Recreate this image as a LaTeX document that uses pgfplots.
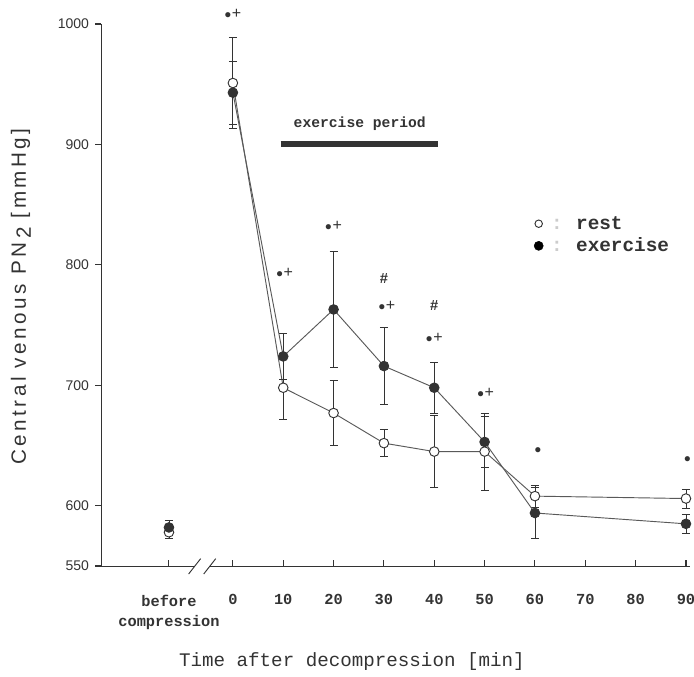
\documentclass[border=0pt]{standalone}
\usepackage{fontspec}
\setmainfont{Liberation Serif}
\setsansfont{Liberation Sans}
\setmonofont{Liberation Mono}
\usepackage{pgfplots}
\pgfplotsset{compat=1.18}
\usetikzlibrary{calc}

\definecolor{ink}{gray}{0.2}
% significance markers: bullet and plus
\newcommand{\sigm}{{\fontsize{10}{10}\selectfont$\bullet$}\kern0.5pt{\fontsize{12}{12}\selectfont\sffamily +}}
\newcommand{\sigd}{{\fontsize{10}{10}\selectfont$\bullet$}}
\newcommand{\sigh}{{\fontsize{11}{11}\selectfont\sffamily\bfseries\#}}

\begin{document}
\begin{tikzpicture}
\begin{axis}[
  scale only axis, width=441.75pt, height=406.5pt,
  xmin=-26.2, xmax=90.8, ymin=550, ymax=1000,
  axis x line*=bottom, axis y line*=left,
  axis line style={-, ink, line width=0.7pt},
  major tick length=0pt,
  xtick={-12.7,0,10,20,30,40,50,60,70,80,90},
  xticklabels={before\\compression,0,10,20,30,40,50,60,70,80,90},
  x tick label style={font=\fontsize{11.5}{15}\selectfont\ttfamily\bfseries, align=center, text=ink, yshift=-18pt},
  ytick={550,600,700,800,900,1000},
  yticklabels={550,600,700,800,900,1000},
  y tick label style={font=\fontsize{10.5}{12}\selectfont\sffamily, text=ink, xshift=-5.5pt},
  xlabel={Time after decompression [min]},
  xlabel style={font=\fontsize{14.4}{16}\selectfont\ttfamily, text=ink, at={(axis description cs:0.426,-0.177)}, anchor=center},
  ylabel={Central venous PN\,\raisebox{-0.45ex}{2} [mmHg]},
  ylabel style={font=\fontsize{15.5}{17}\selectfont\sffamily\addfontfeature{LetterSpace=17}, text=ink, at={(axis description cs:-0.136,0.497)}, anchor=center},
  clip=false,
  legend style={at={(axis cs:59,845)}, anchor=north west, draw=none, fill=none,
    font=\fontsize{14.5}{15}\selectfont\ttfamily\bfseries, text=ink, row sep=1pt},
  legend cell align=left,
  ebar/.style={
    error bars/y dir=both, error bars/y explicit,
    error bars/error bar style={ink, line width=0.6pt},
    error bars/error mark options={rotate=90, ink, mark size=3pt, line width=0.6pt}},
]
% rest
\addplot[forget plot, black!65, line width=0.7pt, mark=*, mark size=3.6pt,
  mark options={fill=white, draw=ink, line width=0.7pt}, ebar] coordinates {
  (0,951) +- (0,38)
  (10,698) +- (0,26)
  (20,677) +- (0,27)
  (30,652) +- (0,11)
  (40,645) +- (0,30)
  (50,645) +- (0,32)
  (60,608) +- (0,9)
  (90,606) +- (0,8)
};
% exercise
\addplot[forget plot, black!65, line width=0.7pt, mark=*, mark size=3.6pt,
  mark options={fill=ink, draw=ink, line width=0.7pt}, ebar] coordinates {
  (0,943) +- (0,26)
  (10,724) +- (0,19)
  (20,763) +- (0,48)
  (30,716) +- (0,32)
  (40,698) +- (0,21)
  (50,653) +- (0,21)
  (60,594) +- (0,21)
  (90,585) +- (0,8)
};
% before compression
\addplot[forget plot, only marks, mark=*, mark size=3.6pt,
  mark options={fill=white, draw=ink, line width=0.7pt}, ebar] coordinates {(-12.7,578) +- (0,5)};
\addplot[forget plot, only marks, mark=*, mark size=3.6pt,
  mark options={fill=ink, draw=ink, line width=0.7pt}, ebar] coordinates {(-12.7,582) +- (0,6)};

\addlegendimage{only marks, mark=*, mark size=2.8pt, mark options={fill=white, draw=ink, line width=0.7pt}}
\addlegendentry{\hspace{4pt}{\color{black!20}:}\hspace{10pt}rest}
\addlegendimage{only marks, mark=*, mark size=3.4pt, mark options={fill=black, draw=black}}
\addlegendentry{\hspace{4pt}{\color{black!20}:}\hspace{10pt}exercise}

% tick lines: x ticks point up into the plot, y ticks point out to the left
\draw[ink, line width=0.8pt]
  (axis cs:-12.7,550) -- (axis cs:-12.7,555)
  (axis cs:0,550) -- (axis cs:0,555)
  (axis cs:10,550) -- (axis cs:10,555)
  (axis cs:20,550) -- (axis cs:20,555)
  (axis cs:30,550) -- (axis cs:30,555)
  (axis cs:40,550) -- (axis cs:40,555)
  (axis cs:50,550) -- (axis cs:50,555)
  (axis cs:60,550) -- (axis cs:60,555)
  (axis cs:70,550) -- (axis cs:70,555)
  (axis cs:80,550) -- (axis cs:80,555)
  (axis cs:90,550) -- (axis cs:90,555)
  (axis cs:-26.2,550) -- (axis cs:-27.3,550)
  (axis cs:-26.2,600) -- (axis cs:-27.3,600)
  (axis cs:-26.2,700) -- (axis cs:-27.3,700)
  (axis cs:-26.2,800) -- (axis cs:-27.3,800)
  (axis cs:-26.2,900) -- (axis cs:-27.3,900)
  (axis cs:-26.2,1000) -- (axis cs:-27.3,1000);

% exercise period bar
\draw[ink, line width=4.5pt] (axis cs:9.5,900) -- (axis cs:40.8,900);
\node[font=\fontsize{11}{12}\selectfont\ttfamily\bfseries, text=ink] at (axis cs:25.2,917) {exercise period};

% significance markers
\node[text=ink] at (axis cs:0,1008) {\sigm};
\node[text=ink] at (axis cs:10.3,793) {\sigm};
\node[text=ink] at (axis cs:20,832) {\sigm};
\node[text=ink] at (axis cs:30,789) {\sigh};
\node[text=ink] at (axis cs:30.6,766) {\sigm};
\node[text=ink] at (axis cs:40,766) {\sigh};
\node[text=ink] at (axis cs:40,739) {\sigm};
\node[text=ink] at (axis cs:50.2,694) {\sigm};
\node[text=ink] at (axis cs:60.6,646) {\sigd};
\node[text=ink] at (axis cs:90.3,638) {\sigd};

\coordinate (b1) at (axis cs:-7.6,550);
\coordinate (b2) at (axis cs:-4.6,550);
\end{axis}
% axis break
\fill[white] ($(b1)+(0,-2pt)$) rectangle ($(b2)+(0,2pt)$);
\draw[ink, line width=0.7pt] ($(b1)+(-4.5pt,-6pt)$) -- ($(b1)+(4.5pt,5.5pt)$);
\draw[ink, line width=0.7pt] ($(b2)+(-4.5pt,-6pt)$) -- ($(b2)+(4.5pt,5.5pt)$);
\pgfresetboundingbox
\useasboundingbox (-75.75pt,-83.25pt) rectangle (444.75pt,424.5pt);
\end{tikzpicture}
\end{document}
